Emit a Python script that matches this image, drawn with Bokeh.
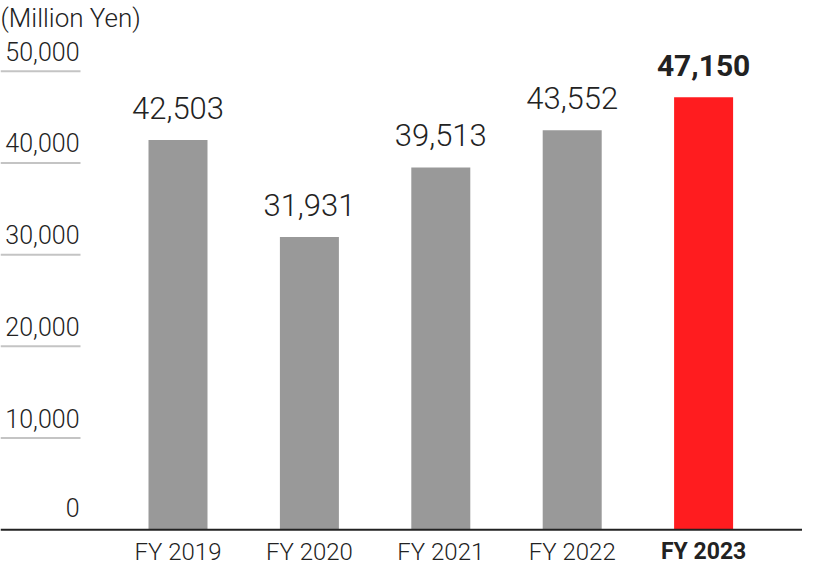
from bokeh.plotting import figure
from bokeh.models import ColumnDataSource, Span, Range1d
from bokeh.core.properties import value
from bokeh.embed import file_html
from bokeh.resources import INLINE

# ---- data ----
categories = ["FY 2019", "FY 2020", "FY 2021", "FY 2022", "FY 2023"]
sales = [42503, 31931, 39513, 43552, 47150]
value_labels = ["42,503", "31,931", "39,513", "43,552", "47,150"]
bar_colors = ["#999999", "#999999", "#999999", "#999999", "#ff1c1f"]
highlight = [False, False, False, False, True]
y_ticks = [0, 10000, 20000, 30000, 40000, 50000]
y_tick_labels = ["0", "10,000", "20,000", "30,000", "40,000", "50,000"]
unit_label = "(Million Yen)"

W, H = 802, 572
# pixel layout (figure coordinates)
step_px = 131.4
first_center_px = 177.5
px_per_unit = 0.009172
zero_px_from_top = 529.3

x_start = -first_center_px / step_px
x_end = (W - first_center_px) / step_px
y_start = -(H - zero_px_from_top) / px_per_unit
y_end = zero_px_from_top / px_per_unit

def px_to_x(px):
    return (px - first_center_px) / step_px

LIGHT = value("Roboto Light")
BOLD = value("Roboto")
TXT = "#222222"

p = figure(width=W, height=H, output_backend="svg", toolbar_location=None,
           x_range=Range1d(x_start, x_end), y_range=Range1d(y_start, y_end),
           min_border=0, min_border_left=0, min_border_right=0,
           min_border_top=0, min_border_bottom=0)
p.axis.visible = False
p.grid.visible = False
p.outline_line_color = None
p.background_fill_color = "white"
p.border_fill_color = "white"

xs = list(range(len(categories)))
src = ColumnDataSource(dict(x=xs, top=sales, color=bar_colors))
p.vbar(x="x", top="top", bottom=0, width=59 / step_px, source=src,
       fill_color="color", line_color=None)

norm = [i for i, h in enumerate(highlight) if not h]
hi = [i for i, h in enumerate(highlight) if h]

nsrc = ColumnDataSource(dict(x=[xs[i] for i in norm], top=[sales[i] for i in norm],
                             vlab=[value_labels[i] for i in norm],
                             cat=[categories[i] for i in norm]))
hsrc = ColumnDataSource(dict(x=[xs[i] for i in hi], top=[sales[i] for i in hi],
                             vlab=[value_labels[i] for i in hi],
                             cat=[categories[i] for i in hi]))

# value labels
p.text(x="x", y="top", text="vlab", source=nsrc, text_font=LIGHT,
       text_font_size="31px", text_color=TXT,
       text_align="center", text_baseline="alphabetic", y_offset=-32)
p.text(x="x", y="top", text="vlab", source=hsrc, text_font=BOLD,
       text_font_size="30px", text_font_style="bold", text_color=TXT,
       text_align="center", text_baseline="alphabetic", y_offset=-32)

# category labels
p.text(x="x", y=0, text="cat", source=nsrc, text_font=LIGHT,
       text_font_size="24px", text_color=TXT,
       text_align="center", text_baseline="alphabetic", y_offset=22)
p.text(x="x", y=0, text="cat", source=hsrc, text_font=BOLD,
       text_font_size="23px", text_font_style="bold", text_color=TXT,
       text_align="center", text_baseline="alphabetic", y_offset=22)

# short gridlines under tick labels
grid_y = [t for t in y_ticks if t > 0]
p.segment(x0=[x_start] * len(grid_y), x1=[px_to_x(80)] * len(grid_y),
          y0=grid_y, y1=grid_y, line_color="#c4c4c4", line_width=2)

# tick labels
tsrc = ColumnDataSource(dict(x=[px_to_x(79)] * len(y_ticks), y=y_ticks,
                             t=y_tick_labels,
                             off=[-22 if t == 0 else -20 for t in y_ticks]))
p.text(x="x", y="y", text="t", source=tsrc, text_font=LIGHT,
       text_font_size="25px", text_color=TXT, text_align="right",
       text_baseline="alphabetic", y_offset="off")

# unit label
p.text(x=[x_start], y=[y_end], text=[unit_label], text_font=LIGHT,
       text_font_size="26px", text_color=TXT, text_align="left",
       text_baseline="alphabetic", y_offset=17)

# baseline
p.add_layout(Span(location=0, dimension="width", line_color="#222222", line_width=2))

open("out.html", "w").write(file_html(p, INLINE))
